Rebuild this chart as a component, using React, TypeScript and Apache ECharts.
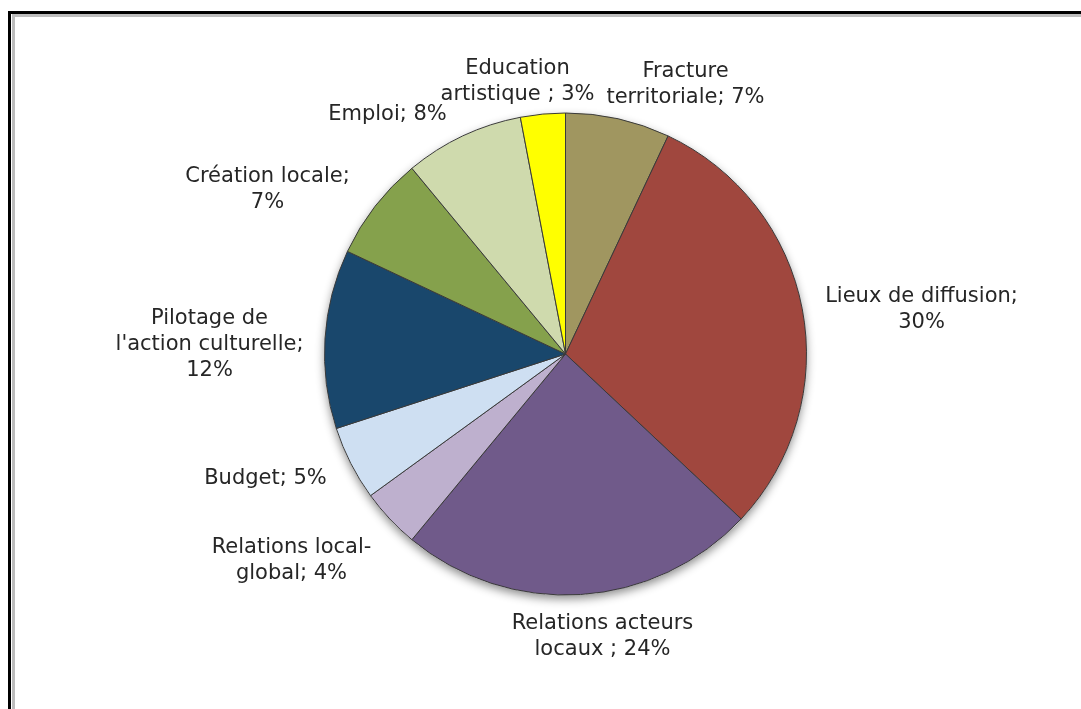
import React, { useEffect, useRef } from "react";
import * as echarts from "echarts";

// ---- data ----
const categories = [
  "Fracture territoriale",
  "Lieux de diffusion",
  "Relations acteurs locaux",
  "Relations local-global",
  "Budget",
  "Pilotage de l'action culturelle",
  "Création locale",
  "Emploi",
  "Education artistique",
];
const values = [7, 30, 24, 4, 5, 12, 7, 8, 3];
const labelFormats = [
  "Fracture\nterritoriale; {v}%",
  "Lieux de diffusion;\n{v}%",
  "Relations acteurs\nlocaux ; {v}%",
  "Relations local-\nglobal; {v}%",
  "Budget; {v}%",
  "Pilotage de\nl'action culturelle;\n{v}%",
  "Création locale;\n{v}%",
  "Emploi; {v}%",
  "Education\nartistique ; {v}%",
];
const colors = [
  "#A09660",
  "#A0473E",
  "#705A8A",
  "#BEB0CE",
  "#CEDFF2",
  "#19476C",
  "#85A14C",
  "#CFDAAD",
  "#FFFF00",
];

export default function App() {
  const ref = useRef<HTMLDivElement>(null);

  useEffect(() => {
    if (!ref.current) return;
    const chart = echarts.init(ref.current, undefined, { renderer: "svg" });

    // layout
    const CX = 565.5;
    const CY = 354;
    const R = 241;
    // label centres relative to the pie centre (Excel "best fit" placement)
    const labelOffsets: [number, number][] = [
      [120, -271],
      [356, -46],
      [37, 281],
      [-274, 205],
      [-300, 123],
      [-356, -11],
      [-298, -166],
      [-178, -241],
      [-48, -274],
    ];

    chart.setOption({
      animation: false,
      backgroundColor: "transparent",
      series: [
        {
          type: "pie",
          center: [CX, CY],
          radius: R,
          silent: true,
          z: 1,
          label: { show: false },
          labelLine: { show: false },
          itemStyle: {
            color: "#ffffff",
            shadowBlur: 10,
            shadowOffsetY: 4,
            shadowColor: "rgba(0,0,0,0.45)",
          },
          data: [{ value: 1, name: "" }],
        },
        {
          type: "pie",
          z: 2,
          center: [CX, CY],
          radius: R,
          startAngle: 90,
          clockwise: true,
          avoidLabelOverlap: false,
          emphasis: { disabled: true },
          itemStyle: { borderColor: "#3a3a3a", borderWidth: 1 },
          label: {
            show: true,
            position: "outside",
            fontFamily: "DejaVu Sans",
            fontSize: 21,
            lineHeight: 26,
            color: "#262626",
            formatter: (p: any) =>
              labelFormats[p.dataIndex].replace("{v}", String(p.value)),
          },
          labelLine: { show: false },
          labelLayout: (params: any) => {
            const o = labelOffsets[params.dataIndex];
            return {
              x: CX + o[0],
              y: CY + o[1],
              align: "center",
              verticalAlign: "middle",
            };
          },
          data: categories.map((name, i) => ({
            name,
            value: values[i],
            itemStyle: { color: colors[i] },
          })),
        },
      ],
    });

    return () => chart.dispose();
  }, []);

  return (
    <div>
      <div
        style={{
          position: "fixed",
          left: 8,
          top: 11,
          width: 1073,
          height: 698,
          boxSizing: "border-box",
          borderLeft: "3px solid #000",
          borderTop: "3px solid #000",
        }}
      />
      <div
        style={{
          position: "fixed",
          left: 12,
          top: 14,
          width: 1069,
          height: 695,
          boxSizing: "border-box",
          borderLeft: "3px solid #bdbdbd",
          borderTop: "3px solid #bdbdbd",
        }}
      />
      <div
        ref={ref}
        style={{ position: "fixed", left: 0, top: 0, width: 1081, height: 709 }}
      />
    </div>
  );
}
